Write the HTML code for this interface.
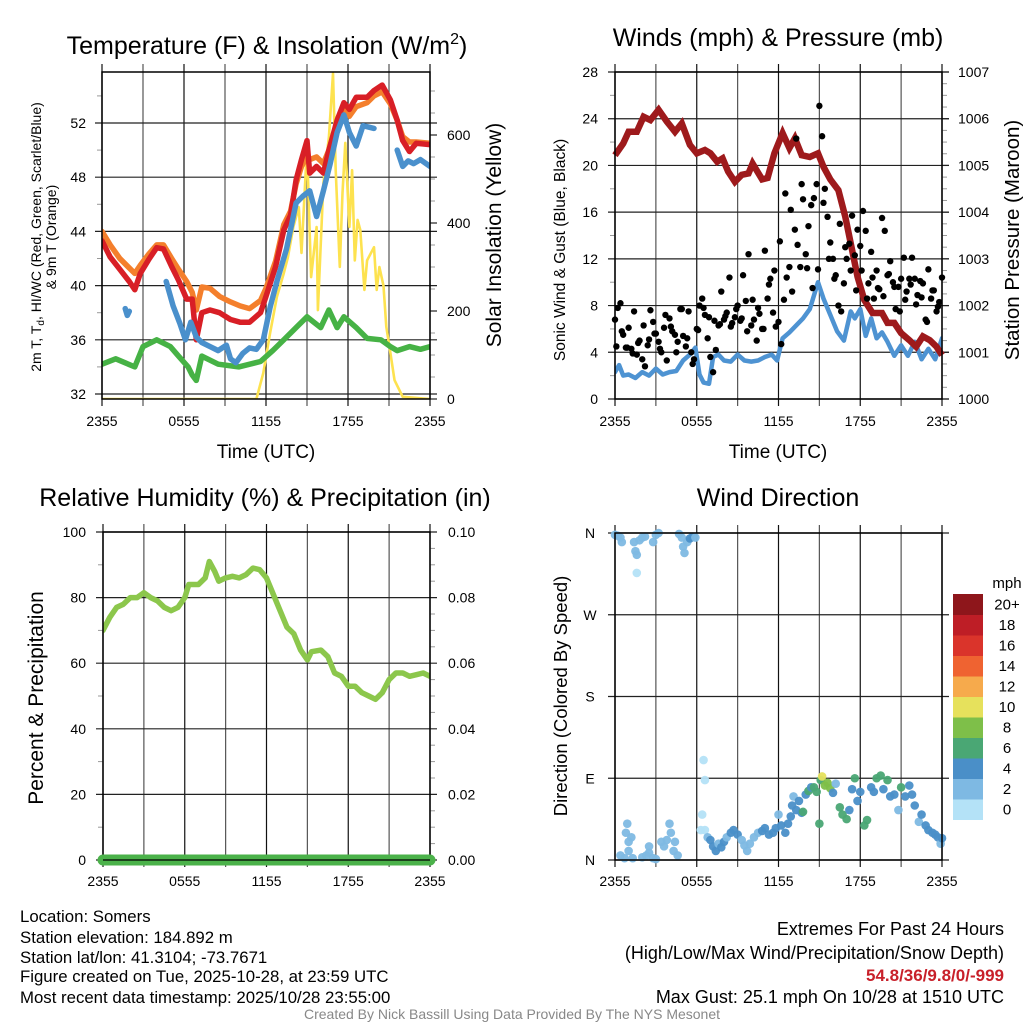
<!DOCTYPE html>
<html><head><meta charset="utf-8"><style>
html,body{margin:0;padding:0;background:#fff;}
svg{display:block;font-family:"Liberation Sans",sans-serif;}
</style></head><body>
<svg id="root" width="1024" height="1024" viewBox="0 0 1024 1024" xmlns="http://www.w3.org/2000/svg">
<rect width="1024" height="1024" fill="#fff"/>
<text x="267" y="54" font-size="25" text-anchor="middle">Temperature (F) &amp; Insolation (W/m<tspan dy="-10" font-size="16">2</tspan><tspan dy="10">)</tspan></text>
<text x="778" y="46" font-size="25" text-anchor="middle">Winds (mph) &amp; Pressure (mb)</text>
<text x="265" y="506" font-size="25" text-anchor="middle">Relative Humidity (%) &amp; Precipitation (in)</text>
<text x="778" y="506" font-size="25" text-anchor="middle">Wind Direction</text>

<text transform="translate(41,237) rotate(-90)" font-size="14" text-anchor="middle">2m T, T<tspan dy="3" font-size="10">d</tspan><tspan dy="-3">, HI/WC (Red, Green, Scarlet/Blue)</tspan></text>
<text transform="translate(56,237) rotate(-90)" font-size="14" text-anchor="middle">&amp; 9m T (Orange)</text>
<text transform="translate(501,235) rotate(-90)" font-size="21" text-anchor="middle">Solar Insolation (Yellow)</text>
<text transform="translate(565,250) rotate(-90)" font-size="15.5" text-anchor="middle">Sonic Wind &amp; Gust (Blue, Black)</text>
<text transform="translate(1019,240) rotate(-90)" font-size="20.5" text-anchor="middle">Station Pressure (Maroon)</text>
<text transform="translate(43,698) rotate(-90)" font-size="21" text-anchor="middle">Percent &amp; Precipitation</text>
<text transform="translate(567,696) rotate(-90)" font-size="18.5" text-anchor="middle">Direction (Colored By Speed)</text>
<text x="266" y="458" font-size="19" text-anchor="middle">Time (UTC)</text>
<text x="778" y="458" font-size="19" text-anchor="middle">Time (UTC)</text>

<g font-size="16.8">
<text x="20" y="922">Location: Somers</text>
<text x="20" y="943">Station elevation: 184.892 m</text>
<text x="20" y="963">Station lat/lon: 41.3104; -73.7671</text>
<text x="20" y="982">Figure created on Tue, 2025-10-28, at 23:59 UTC</text>
<text x="20" y="1003">Most recent data timestamp: 2025/10/28 23:55:00</text>
</g>
<g font-size="18" text-anchor="end">
<text x="1004" y="935">Extremes For Past 24 Hours</text>
<text x="1004" y="959">(High/Low/Max Wind/Precipitation/Snow Depth)</text>
<text x="1004" y="981" fill="#c8202a" font-weight="bold" font-size="17">54.8/36/9.8/0/-999</text>
<text x="1004" y="1003">Max Gust: 25.1 mph On 10/28 at 1510 UTC</text>
</g>
<text x="512" y="1019" font-size="14" fill="#888" text-anchor="middle">Created By Nick Bassill Using Data Provided By The NYS Mesonet</text>
</svg>
<script>
// ---------- data ----------
const xTickLabels = ["2355","0555","1155","1755","2355"];
const tempTicks = [32,36,40,44,48,52];
const solarTicks = [0,200,400,600];
const windTicks = [0,4,8,12,16,20,24,28];
const presTicks = [1000,1001,1002,1003,1004,1005,1006,1007];
const rhTicks = [0,20,40,60,80,100];
const precipTicks = ["0.00","0.02","0.04","0.06","0.08","0.10"];
const dirTickLabels = ["N","E","S","W","N"];

const tempHours = [0,0.6,1.3,2.0,2.4,2.8,3.4,4.0,4.5,5.1,5.6,6.2,6.6,6.9,7.3,7.9,8.6,9.4,10.1,10.8,11.6,12.0,12.7,13.3,13.8,14.2,14.6,15.0,15.2,15.7,16.2,16.6,17.2,17.7,18.1,18.6,19.4,19.9,20.5,21.1,21.6,22.0,22.5,23.0,24];
const tempRed = [43.3,42.1,41.2,40.3,39.7,40.9,41.9,42.8,42.7,41.4,40.4,39.0,39.0,36.0,38.0,38.2,38.0,37.5,37.3,37.3,38.0,39.2,41.4,44.1,45.2,47.8,49.3,50.7,48.3,48.8,48.3,50.0,52.2,53.5,53.0,53.9,53.9,54.4,54.8,53.7,52.2,50.7,49.9,50.5,50.4];
const tempOrange = [44.0,43.0,42.0,41.3,40.9,41.5,42.3,43.0,43.0,42.0,41.2,40.3,39.5,38.2,39.9,39.8,39.2,38.8,38.5,38.3,38.9,39.8,41.8,44.5,45.5,47.5,48.8,49.5,49.3,49.5,49.0,50.0,52.0,53.0,52.5,53.2,53.5,54.0,54.3,53.4,52.2,51.0,50.6,50.6,50.5];

const hiHours = [1.7,1.85,2.0,null,4.7,5.2,5.7,6.1,6.5,6.9,7.3,7.9,8.5,9.1,9.4,9.8,10.3,10.8,11.3,11.8,12.3,12.8,13.5,14.2,14.7,15.2,15.7,16.2,16.7,17.2,17.7,18.1,18.6,19.1,19.9,null,21.6,22.0,22.4,22.8,23.3,24];
const hiValues = [38.3,37.8,38.1,null,40.3,38.5,37.2,36.0,37.3,36.2,35.8,35.5,35.2,35.6,34.6,34.3,35.0,35.4,35.3,36.0,38.4,40.3,42.7,46.1,46.6,47.0,45.1,47.0,49.0,51.3,52.6,51.3,50.3,51.8,51.6,null,50.0,48.8,49.2,49.0,49.3,48.8];

const dewHours = [0,1,2.4,3,4,5,5.6,6.3,6.6,6.9,7.3,8.5,10,11.6,12.5,13.3,14.2,15,16,16.6,17.2,17.7,18.6,19.4,20.4,21.1,21.6,22.5,23.3,24];
const dewValues = [34.2,34.6,34.0,35.5,36.0,35.5,34.8,34.0,33.4,33.0,34.8,34.2,34.0,34.4,35.2,36.0,36.9,37.7,36.9,38.2,36.9,37.7,36.9,36.1,36.0,35.5,35.2,35.5,35.3,35.5];

const solarHours = [0,11.3,11.8,12.3,12.8,13.3,13.6,14.0,14.4,14.6,15.0,15.3,15.7,15.8,16.2,16.6,16.9,17.1,17.4,17.6,17.8,18.1,18.3,18.5,18.7,18.9,19.2,19.4,19.9,20.1,20.3,20.6,20.8,21.1,21.4,22.0,24];
const solarValues = [0,0,59,150,232,286,322,391,436,332,573,277,391,202,491,595,740,520,300,468,582,391,520,315,407,384,248,315,345,248,300,257,164,105,43,5,0];

const presHours = [0,0.6,1.0,1.6,2.1,2.6,3.2,3.8,4.4,4.9,5.5,6.0,6.6,7.0,7.5,7.9,8.3,8.8,9.3,9.8,10.1,10.8,11.2,11.7,12.3,12.8,13.2,13.7,14.3,14.9,15.3,15.8,16.4,16.9,17.4,17.8,18.3,18.9,19.6,20.0,20.5,21.0,21.6,22.1,22.6,23.1,23.6,24];
const presValues = [1005.22,1005.47,1005.72,1005.72,1006.04,1005.97,1006.19,1005.94,1005.72,1005.90,1005.44,1005.26,1005.33,1005.26,1005.08,1005.15,1004.87,1004.65,1004.80,1004.83,1005.04,1004.70,1004.73,1005.26,1005.69,1005.37,1005.58,1005.22,1005.18,1005.26,1004.97,1004.70,1004.47,1003.90,1003.19,1002.62,1002.12,1001.84,1001.84,1001.63,1001.63,1001.41,1001.26,1001.12,1001.34,1001.26,1001.12,1000.94];

const windHours = [0,0.3,0.6,1,1.5,2,2.5,3,3.5,4,4.5,5,5.5,5.9,6.2,6.5,6.9,7.2,7.6,8,8.5,9,9.5,10,10.5,11,11.5,11.9,12.3,12.8,13.3,13.8,14.3,14.9,15.3,15.8,16.3,16.8,17.3,17.6,18,18.4,18.8,19.2,19.6,20,20.5,21,21.5,22,22.5,23,23.5,24];
const windValues = [2.3,2.9,2.0,2.1,1.8,2.3,2.0,2.6,2.1,2.3,2.4,3.3,3.8,4.4,2.1,1.4,1.3,3.6,3.8,3.3,3.2,3.8,3.3,3.2,3.3,3.6,3.8,3.3,5.2,5.7,6.3,6.9,7.7,10.0,8.6,7.2,5.8,5.0,7.5,6.9,7.7,5.4,6.9,5.2,5.7,4.9,3.7,4.6,3.7,4.9,3.4,4.3,3.4,5.2];

const gustValuesA = [6.8,7.8,8.2,5.5,4.4,6.1,4.3,7.5,3.8,5.0,3.4,2.8,4.6,7.6,6.6,5.6,4.9,4.0,6.1,3.3,6.9,5.8,5.5,4.9,7.7,5.4,4.5,7.5,4.0,3.4,6.0,8.0,8.6,7.2,5.2,3.6,2.3,4.2,6.3,9.2,6.8,7.4,10.4,6.5,7.0,8.0,6.7,10.6,8.4,12.4,6.3,6.8,5.0,7.3,6.0,12.7,8.6,10.3,7.4,6.2,6.6,4.7,8.5,10.4,11.3,9.2,14.5,13.2,11.3,17.1,12.4,14.8,16.6,17.2,18.4,25.1,22.5,18.0,15.6,13.4,12.0,10.6,8.0,7.5,9.9,12.0,13.3,15.7,12.3,14.5,13.1,16.1,14.4,9.9,12.6,8.6,11.0,9.4,15.5,14.4,10.6,11.8,10.0,7.7,9.6,10.3,12.1,9.2,10.3,12.1,10.3,8.9,10.1,9.9,6.8,11.1,8.6,9.3,7.5,8.3,10.4];
const gustValuesB = [4.5,5.8,4.4,3.9,4.8,6.3,5.1,5.6,4.3,7.2,6.2,4.0,7.7,5.2,3.0,5.9,7.8,7.0,6.7,6.4,7.1,6.2,7.7,6.9,5.8,8.5,7.8,6.0,9.8,11.0,13.5,17.6,16.2,22.3,18.4,11.2,9.5,11.1,16.8,12.0,10.3,15.0,13.0,11.0,9.3,11.0,8.6,10.4,9.5,8.8,10.7,9.6,7.5,8.5,9.8,8.1,8.7,6.6,9.3,7.9];

const rhHours = [0,0.5,1,1.5,2,2.5,3,3.5,4,4.5,5,5.5,6,6.3,7,7.5,7.8,8.2,8.5,9,9.5,10,10.5,11,11.5,12,12.5,13,13.5,14,14.5,15,15.3,16,16.5,17,17.5,18,18.5,19,19.5,20,20.5,21,21.5,22,22.5,23,23.5,24];
const rhValues = [70,74,77,78,80,80,81.5,80,79,77,76,77,80,84,84,86,91,88,85,86,86.5,86,87,89,88.5,86,81,76,71,69,64,61,63.5,64,62,57,56,53,53,51,50,49,51,55,57,57,56,56.5,57,56];
const precipHours = [0,24];
const precipValues = [0,0];

const dirHours = [0,0.2,0.4,0.5,0.4,0.7,1.0,0.8,0.9,1.0,1.2,1.3,1.4,1.5,1.6,1.6,1.8,2.0,2.2,2.0,2.3,2.5,2.5,2.8,2.8,3.0,3.2,3.0,3.4,3.6,3.8,4.0,4.1,4.3,4.4,4.6,4.7,4.9,5.0,5.1,5.3,5.5,5.7,5.9,6.4,6.5,6.6,6.3,6.6,6.8,7.0,7.2,7.4,7.6,7.8,8.0,8.2,8.5,8.7,9.0,9.3,9.5,9.7,9.9,10.2,10.5,10.8,11.0,11.3,11.6,11.8,12.0,12.2,12.5,12.7,12.9,13.0,13.1,13.3,13.5,13.7,13.8,14.0,14.2,14.4,14.6,14.8,15.0,15.1,15.2,15.4,15.6,15.8,16.0,16.2,16.5,16.7,17.0,17.2,17.4,17.6,17.8,18.0,18.3,18.5,18.8,19.0,19.2,19.5,19.7,20.0,20.2,20.5,20.8,21.0,21.3,21.6,21.8,22.0,22.3,22.5,22.8,23.0,23.3,23.5,23.7,23.9,24];
const dirValues = [358,357,355,350,5,2,10,30,40,20,25,2,350,340,336,316,352,355,356,3,5,8,15,2,350,358,360,1,20,15,22,40,30,10,20,5,359,355,345,338,350,354,356,355,50,110,88,33,33,25,22,15,10,18,14,20,25,30,33,28,22,16,10,18,25,30,32,35,28,30,35,50,38,30,40,48,60,70,55,65,52,53,72,76,80,80,75,40,88,92,82,85,79,74,84,58,50,45,55,78,90,65,75,38,44,80,75,90,93,78,88,70,72,55,80,70,82,72,60,42,50,38,33,30,28,25,18,24];
const dirSpeeds = [2,2.5,3,3,2.5,3,2.5,2.5,3,3,2,3,3,3.5,2.5,1,3,3,3,2,2.5,3,3,3,3,3,3,3,2.5,3,3,3,3,3,3.5,3,3,3,3,3.5,3,4.5,4.5,3,1,1,1,1,1,3,4,4.5,4.5,3.5,4.5,4,3,4.5,4.5,4.5,3,3,3.5,3,3.5,3,4.5,4,4.5,4.5,4.5,3,4.5,5,4.5,4.5,4.5,3,5,4.5,5,6.5,5,6,5.5,6.5,6.5,6.5,6,10,8,8.5,8.5,5,3,6.5,6.5,6.5,5,5,7,5.5,5,6.5,6.5,5,4.5,6.5,7,5.5,7,5,4.5,3.5,6,5,4.5,4.5,4.5,3.5,4.5,4.5,4.5,4,4.5,4.5,3,4.5];
const colorbarLabels = ["0","2","4","6","8","10","12","14","16","18","20+"];
const colorbarColors = ["#b4e2f7","#7eb9e3","#4a8fc8","#4aa774","#7ebf49","#e6e15c","#f6aa4c","#ef6331","#da342b","#be1e26","#8e161b"];

// ---------- helpers ----------
const NS = "http://www.w3.org/2000/svg";
const root = document.getElementById("root");
function mk(tag, attrs, parent) {
  const e = document.createElementNS(NS, tag);
  for (const k in attrs) e.setAttribute(k, attrs[k]);
  (parent || root).appendChild(e);
  return e;
}
function txt(s, attrs, parent) { const t = mk("text", attrs, parent); t.textContent = s; return t; }
function speedColor(s) { let i = Math.floor(s / 2); if (i > 10) i = 10; if (i < 0) i = 0; return colorbarColors[i]; }

function panel(id, L, R, T, B) {
  const g = mk("g", {});
  
  
  const cp = mk("clipPath", { id: id + "-clip" }, g);
  mk("rect", { x: L, y: T, width: R - L, height: B - T }, cp);
  return g;
}
function grid(g, L, R, T, B, yPositions) {
  for (let i = 0; i <= 8; i++) {
    const x = L + (R - L) * i / 8;
    const ln = mk("line", { x1: x, x2: x, y1: T - 8, y2: B + 7, stroke: i % 2 ? "#555" : "#111", "stroke-width": 1.2 }, g);
    
    
  }
  yPositions.forEach(y => {
    const ln = mk("line", { x1: L - 7, x2: R + 7, y1: y, y2: y, stroke: "#222", "stroke-width": 1.2 }, g);
    
    
  });
}
function xLabels(g, L, R, y) {
  xTickLabels.forEach((s, i) => {
    const t = txt(s, { x: L + (R - L) * i / 4, y: y, "font-size": 14, "text-anchor": "middle" }, g);
    
    
  });
}
function minorTicks(g, x0, dir, ys) {
  ys.forEach(y => mk("line", { x1: x0, x2: x0 + dir * 5, y1: y, y2: y, stroke: "#999", "stroke-width": 1 }, g));
}
function frame(g, L, R, T, B) {
  const f = mk("rect", { x: L, y: T, width: R - L, height: B - T, fill: "none", stroke: "#000", "stroke-width": 1.5 }, g);
  
  
}
function pathFrom(xs, ys, sx, sy) {
  let d = "", pen = false;
  for (let i = 0; i < xs.length; i++) {
    if (xs[i] === null || ys[i] === null) { pen = false; continue; }
    d += (pen ? "L" : "M") + sx(xs[i]).toFixed(1) + "," + sy(ys[i]).toFixed(1);
    pen = true;
  }
  return d;
}

// ---------- Panel 1: temperature ----------
(function () {
  const L = 102, R = 430, T = 72, B = 399;
  const sx = h => L + (R - L) * h / 24;
  const sy = v => 394 - (v - 32) * (271 / 20);
  const ss = v => B - v * 0.44;
  const g = panel("temperature", L, R, T, B);
  grid(g, L, R, T, B, tempTicks.map(sy));
  const mnL = []; for (let v = 34; v <= 54; v += 4) mnL.push(sy(v));
  minorTicks(g, L, -1, mnL);
  const mnR = []; for (let v = 50; v <= 700; v += 50) if (v % 200) mnR.push(ss(v));
  minorTicks(g, R, 1, mnR);
  solarTicks.forEach(v => mk("line", { x1: R, x2: R + 7, y1: ss(v), y2: ss(v), stroke: "#222", "stroke-width": 1.2 }, g));
  const pg = mk("g", { "clip-path": "url(#temperature-clip)", fill: "none", "stroke-linejoin": "round", "stroke-linecap": "round" }, g);
  const sol = mk("path", { d: pathFrom(solarHours, solarValues, sx, ss), stroke: "#fde24f", "stroke-width": 2.6 }, pg);
  
  
  const dew = mk("path", { d: pathFrom(dewHours, dewValues, sx, sy), stroke: "#46b245", "stroke-width": 5.5 }, pg);
  
  
  const org = mk("path", { d: pathFrom(tempHours, tempOrange, sx, sy), stroke: "#f47f2c", "stroke-width": 5.5 }, pg);
  
  
  const red = mk("path", { d: pathFrom(tempHours, tempRed, sx, sy), stroke: "#d81f26", "stroke-width": 5.5 }, pg);
  
  
  const hi = mk("path", { d: pathFrom(hiHours, hiValues, sx, sy), stroke: "#4a90cc", "stroke-width": 5.5 }, pg);
  
  
  frame(g, L, R, T, B);
  tempTicks.forEach(v => {
    const t = txt(String(v), { x: 86, y: sy(v) + 5, "font-size": 14, "text-anchor": "end" }, g);
    
    
  });
  solarTicks.forEach(v => {
    const t = txt(String(v), { x: 447, y: ss(v) + 5, "font-size": 14 }, g);
    
    
  });
  xLabels(g, L, R, 426);
})();

// ---------- Panel 2: winds ----------
(function () {
  const L = 615, R = 942, T = 72, B = 399;
  const sx = h => L + (R - L) * h / 24;
  const sy = v => B - v * (B - T) / 28;
  const sp = p => B - (p - 1000) * (B - T) / 7;
  const g = panel("winds", L, R, T, B);
  grid(g, L, R, T, B, windTicks.map(sy));
  const mnL = []; for (let v = 2; v < 28; v += 4) mnL.push(sy(v));
  minorTicks(g, L, -1, mnL);
  const mnR = []; for (let p = 1000.25; p < 1007; p += 0.25) if (Math.abs(p - Math.round(p)) > 0.01) mnR.push(sp(p));
  minorTicks(g, R, 1, mnR);
  presTicks.forEach(p => mk("line", { x1: R, x2: R + 7, y1: sp(p), y2: sp(p), stroke: "#222", "stroke-width": 1.2 }, g));
  const pg = mk("g", { "clip-path": "url(#winds-clip)", "stroke-linejoin": "round", "stroke-linecap": "round" }, g);
  const wl = mk("path", { d: pathFrom(windHours, windValues, sx, sy), stroke: "#4e93d2", "stroke-width": 4.5, fill: "none" }, pg);
  
  
  const pl = mk("path", { d: pathFrom(presHours, presValues, sx, sp), stroke: "#9e1a1c", "stroke-width": 6.5, fill: "none" }, g);
  
  
  gustValuesA.forEach((v, i) => {
    const c = mk("circle", { cx: sx(i * 0.2), cy: sy(v), r: 3.2, fill: "#000" }, g);
    
    
  });
  gustValuesB.forEach((v, i) => {
    const c = mk("circle", { cx: sx(0.1 + i * 0.4), cy: sy(v), r: 3.2, fill: "#000" }, g);
    
    
  });
  frame(g, L, R, T, B);
  windTicks.forEach(v => {
    const t = txt(String(v), { x: 598, y: sy(v) + 5, "font-size": 14, "text-anchor": "end" }, g);
    
    
  });
  presTicks.forEach(p => {
    const t = txt(String(p), { x: 958, y: sp(p) + 5, "font-size": 14 }, g);
    
    
  });
  xLabels(g, L, R, 426);
})();

// ---------- Panel 3: humidity ----------
(function () {
  const L = 103, R = 430, T = 532, B = 860;
  const sx = h => L + (R - L) * h / 24;
  const sy = v => B - v * (B - T) / 100;
  const sq = v => B - v * (B - T) / 0.10;
  const g = panel("humidity", L, R, T, B);
  grid(g, L, R, T, B, rhTicks.map(sy));
  const mnL = []; for (let v = 10; v < 100; v += 20) mnL.push(sy(v));
  minorTicks(g, L, -1, mnL);
  const mnR = []; for (let v = 0.005; v < 0.1; v += 0.005) if (Math.round(v * 1000) % 20) mnR.push(sq(v));
  minorTicks(g, R, 1, mnR);
  const pg = mk("g", { "clip-path": "url(#humidity-clip)", fill: "none", "stroke-linejoin": "round", "stroke-linecap": "round" }, g);
  const rl = mk("path", { d: pathFrom(rhHours, rhValues, sx, sy), stroke: "#8cc74c", "stroke-width": 5.5 }, pg);
  
  
  frame(g, L, R, T, B);
  const pl = mk("path", { d: pathFrom(precipHours, precipValues, sx, sq), stroke: "#4bb24a", "stroke-width": 11, fill: "none", "stroke-linecap": "round" }, g);
  
  
  mk("line", { x1: L, x2: R, y1: B, y2: B, stroke: "#000", "stroke-width": 1.2 }, g);
  rhTicks.forEach(v => {
    const t = txt(String(v), { x: 86, y: sy(v) + 5, "font-size": 14, "text-anchor": "end" }, g);
    
    
  });
  precipTicks.forEach(s => {
    const t = txt(s, { x: 448, y: sq(parseFloat(s)) + 5, "font-size": 14 }, g);
    
    
  });
  xLabels(g, L, R, 886);
})();

// ---------- Panel 4: wind direction ----------
(function () {
  const L = 615, R = 942, T = 533, B = 860;
  const sx = h => L + (R - L) * h / 24;
  const sy = d => B - d * (B - T) / 360;
  const g = panel("direction", L, R, T, B);
  grid(g, L, R, T, B, [0, 90, 180, 270, 360].map(sy));
  dirValues.forEach((d, i) => {
    const c = mk("circle", { cx: sx(dirHours[i]), cy: sy(d), r: 4.3, fill: speedColor(dirSpeeds[i]), "fill-opacity": 0.95 }, g);
    
    
  });
  frame(g, L, R, T, B);
  dirTickLabels.forEach((s, i) => {
    const t = txt(s, { x: 590, y: sy(i * 90) + 5, "font-size": 14, "text-anchor": "middle" }, g);
    
    
  });
  xLabels(g, L, R, 886);
  const cb = mk("g", {});
  
  
  const top = 594, h = 20.5;
  colorbarColors.forEach((c, i) => {
    const y = top + (10 - i) * h;
    const r = mk("rect", { x: 953, y: y, width: 30, height: h + 0.5, fill: c }, cb);
    
    
    const t = txt(colorbarLabels[i], { x: 1007, y: y + h / 2 + 5, "font-size": 15, "text-anchor": "middle" }, cb);
    
    
  });
  const u = txt("mph", { x: 1007, y: 588, "font-size": 15, "text-anchor": "middle" }, cb);
  
  
})();
</script>
</body></html>
